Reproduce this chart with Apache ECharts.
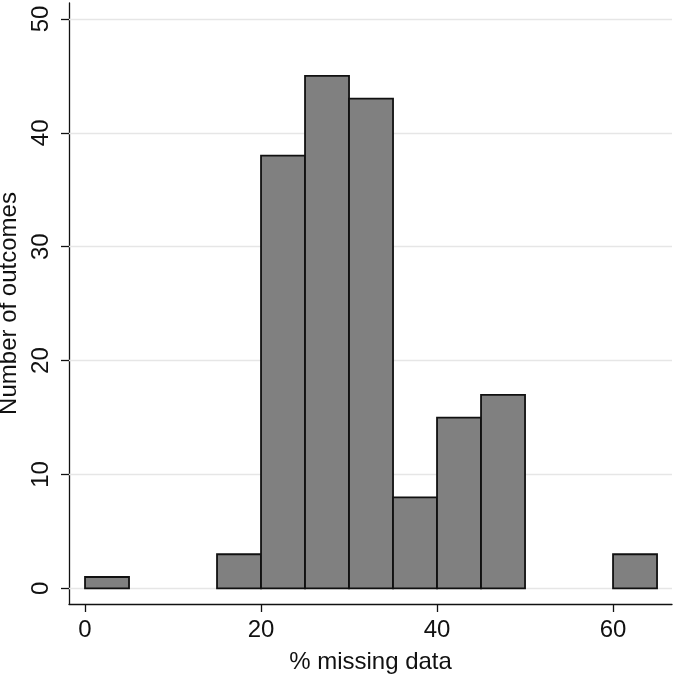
<!DOCTYPE html>
<html><head><meta charset="utf-8">
<script src="https://cdn.jsdelivr.net/npm/echarts@6/dist/echarts.min.js"></script>
<style>html,body{margin:0;padding:0;background:#fff}#c{width:675px;height:676px}</style>
</head><body><div id="c"></div>
<script>
const binStart = [0, 5, 10, 15, 20, 25, 30, 35, 40, 45, 50, 55, 60];
const binEnd   = [5, 10, 15, 20, 25, 30, 35, 40, 45, 50, 55, 60, 65];
const counts   = [1, 0, 0, 3, 38, 45, 43, 8, 15, 17, 0, 0, 3];
const xTicks = [0, 20, 40, 60];
const yTicks = [0, 10, 20, 30, 40, 50];

const data = binStart.map((s, i) => [s, binEnd[i], counts[i]]).filter(d => d[2] > 0);
const chart = echarts.init(document.getElementById('c'));
const font = 'Liberation Sans, Arial, Helvetica, sans-serif';
chart.setOption({
  animation: false,
  grid: {left: 69, right: 3, top: 3, bottom: 72, outerBoundsMode: 'none', containLabel: false},
  xAxis: {
    type: 'value', min: -1.82, max: 66.7,
    name: '% missing data', nameLocation: 'middle', nameGap: 46,
    nameTextStyle: {fontSize: 24, color: '#111', fontFamily: font},
    axisLine: {show: true, onZero: false, lineStyle: {color: '#111', width: 1.3}},
    axisTick: {show: true, length: 8, customValues: xTicks, lineStyle: {color: '#111', width: 1.3}},
    axisLabel: {customValues: xTicks, fontSize: 24, color: '#111', fontFamily: font, margin: 14},
    splitLine: {show: false}
  },
  yAxis: {
    type: 'value', min: -1.37, max: 51.4,
    name: 'Number of outcomes', nameLocation: 'middle', nameGap: 39,
    nameTextStyle: {fontSize: 24, color: '#111', fontFamily: font},
    axisLine: {show: true, onZero: false, lineStyle: {color: '#111', width: 1.3}},
    axisTick: {show: true, length: 8, customValues: yTicks, lineStyle: {color: '#111', width: 1.3}},
    axisLabel: {customValues: yTicks, rotate: 90, fontSize: 24, color: '#111', fontFamily: font, margin: 16},
    splitLine: {show: false}
  },
  series: [
    {
      type: 'line', data: [], silent: true, z: 1,
      markLine: {
        symbol: 'none', silent: true, label: {show: false},
        lineStyle: {color: '#e6e6e6', width: 1.3, type: 'solid'},
        data: yTicks.map(v => ({yAxis: v}))
      }
    },
    {
      type: 'custom', z: 5,
      data: data,
      renderItem: function (params, api) {
        const p0 = api.coord([api.value(0), 0]);
        const p1 = api.coord([api.value(1), api.value(2)]);
        return {
          type: 'rect',
          shape: {x: p0[0], y: p1[1], width: p1[0] - p0[0], height: p0[1] - p1[1]},
          style: {fill: '#808080', stroke: '#111', lineWidth: 1.8}
        };
      },
      encode: {x: [0, 1], y: 2}
    }
  ]
});
</script></body></html>
